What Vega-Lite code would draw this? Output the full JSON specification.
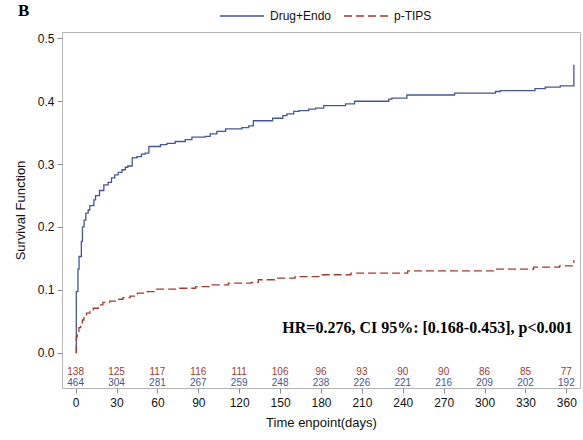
{
  "$schema": "https://vega.github.io/schema/vega-lite/v6.json",
  "autosize": "none",
  "width": 518,
  "height": 356,
  "padding": {"left": 62, "top": 32, "right": 3, "bottom": 52},
  "background": "white",
  "config": {
    "view": {"stroke": "#b4b4b4", "strokeWidth": 1},
    "font": "Liberation Sans"
  },
  "title": {
    "text": "B",
    "font": "Liberation Serif",
    "fontSize": 17,
    "fontWeight": "bold",
    "color": "#000000",
    "anchor": "start",
    "frame": "group",
    "dx": -44,
    "dy": 33,
    "offset": 6
  },
  "datasets": {
    "curves": [
      {"g": "Drug+Endo", "t": 0, "s": 0},
      {"g": "Drug+Endo", "t": 0.5, "s": 0.097},
      {"g": "Drug+Endo", "t": 1.7, "s": 0.133},
      {"g": "Drug+Endo", "t": 2.5, "s": 0.153},
      {"g": "Drug+Endo", "t": 4.2, "s": 0.177},
      {"g": "Drug+Endo", "t": 5, "s": 0.2},
      {"g": "Drug+Endo", "t": 6.2, "s": 0.211},
      {"g": "Drug+Endo", "t": 7.5, "s": 0.222},
      {"g": "Drug+Endo", "t": 9.2, "s": 0.227},
      {"g": "Drug+Endo", "t": 10.4, "s": 0.234},
      {"g": "Drug+Endo", "t": 13.4, "s": 0.243},
      {"g": "Drug+Endo", "t": 14.6, "s": 0.25},
      {"g": "Drug+Endo", "t": 17.5, "s": 0.258},
      {"g": "Drug+Endo", "t": 20.7, "s": 0.267},
      {"g": "Drug+Endo", "t": 23.9, "s": 0.271},
      {"g": "Drug+Endo", "t": 26.3, "s": 0.278},
      {"g": "Drug+Endo", "t": 28.7, "s": 0.283},
      {"g": "Drug+Endo", "t": 31.2, "s": 0.287},
      {"g": "Drug+Endo", "t": 34, "s": 0.291},
      {"g": "Drug+Endo", "t": 36.5, "s": 0.295},
      {"g": "Drug+Endo", "t": 38.3, "s": 0.297},
      {"g": "Drug+Endo", "t": 41.5, "s": 0.31},
      {"g": "Drug+Endo", "t": 45, "s": 0.312},
      {"g": "Drug+Endo", "t": 48.3, "s": 0.316},
      {"g": "Drug+Endo", "t": 51, "s": 0.3175},
      {"g": "Drug+Endo", "t": 53.7, "s": 0.328},
      {"g": "Drug+Endo", "t": 62.2, "s": 0.331},
      {"g": "Drug+Endo", "t": 67, "s": 0.333},
      {"g": "Drug+Endo", "t": 73, "s": 0.336},
      {"g": "Drug+Endo", "t": 80.4, "s": 0.339},
      {"g": "Drug+Endo", "t": 85.3, "s": 0.343},
      {"g": "Drug+Endo", "t": 95, "s": 0.344},
      {"g": "Drug+Endo", "t": 98.7, "s": 0.348},
      {"g": "Drug+Endo", "t": 103.6, "s": 0.352},
      {"g": "Drug+Endo", "t": 110, "s": 0.356},
      {"g": "Drug+Endo", "t": 122, "s": 0.358},
      {"g": "Drug+Endo", "t": 127, "s": 0.361},
      {"g": "Drug+Endo", "t": 130.4, "s": 0.369},
      {"g": "Drug+Endo", "t": 144.5, "s": 0.373},
      {"g": "Drug+Endo", "t": 152, "s": 0.377},
      {"g": "Drug+Endo", "t": 155, "s": 0.38},
      {"g": "Drug+Endo", "t": 160, "s": 0.384},
      {"g": "Drug+Endo", "t": 164, "s": 0.385},
      {"g": "Drug+Endo", "t": 171, "s": 0.3875},
      {"g": "Drug+Endo", "t": 176, "s": 0.389},
      {"g": "Drug+Endo", "t": 182, "s": 0.393},
      {"g": "Drug+Endo", "t": 198, "s": 0.396},
      {"g": "Drug+Endo", "t": 204.6, "s": 0.4},
      {"g": "Drug+Endo", "t": 229.7, "s": 0.4035},
      {"g": "Drug+Endo", "t": 232, "s": 0.405},
      {"g": "Drug+Endo", "t": 243, "s": 0.41},
      {"g": "Drug+Endo", "t": 278, "s": 0.413},
      {"g": "Drug+Endo", "t": 308, "s": 0.4155},
      {"g": "Drug+Endo", "t": 311.5, "s": 0.417},
      {"g": "Drug+Endo", "t": 337, "s": 0.42},
      {"g": "Drug+Endo", "t": 344.5, "s": 0.4225},
      {"g": "Drug+Endo", "t": 355.5, "s": 0.4245},
      {"g": "Drug+Endo", "t": 365.5, "s": 0.458},
      {"g": "p-TIPS", "t": 0, "s": 0},
      {"g": "p-TIPS", "t": 0.5, "s": 0.025},
      {"g": "p-TIPS", "t": 1.2, "s": 0.028},
      {"g": "p-TIPS", "t": 2.4, "s": 0.04},
      {"g": "p-TIPS", "t": 3.7, "s": 0.047},
      {"g": "p-TIPS", "t": 4.9, "s": 0.052},
      {"g": "p-TIPS", "t": 6.1, "s": 0.057},
      {"g": "p-TIPS", "t": 8, "s": 0.063},
      {"g": "p-TIPS", "t": 10.5, "s": 0.068},
      {"g": "p-TIPS", "t": 12.9, "s": 0.0707},
      {"g": "p-TIPS", "t": 16.6, "s": 0.076},
      {"g": "p-TIPS", "t": 20, "s": 0.08},
      {"g": "p-TIPS", "t": 25, "s": 0.082},
      {"g": "p-TIPS", "t": 30, "s": 0.085},
      {"g": "p-TIPS", "t": 34.7, "s": 0.0876},
      {"g": "p-TIPS", "t": 40, "s": 0.09},
      {"g": "p-TIPS", "t": 45.3, "s": 0.0946},
      {"g": "p-TIPS", "t": 52.6, "s": 0.097},
      {"g": "p-TIPS", "t": 57.6, "s": 0.101},
      {"g": "p-TIPS", "t": 75.8, "s": 0.1025},
      {"g": "p-TIPS", "t": 88, "s": 0.105},
      {"g": "p-TIPS", "t": 100, "s": 0.108},
      {"g": "p-TIPS", "t": 112, "s": 0.1105},
      {"g": "p-TIPS", "t": 129, "s": 0.112},
      {"g": "p-TIPS", "t": 134, "s": 0.116},
      {"g": "p-TIPS", "t": 146, "s": 0.1185},
      {"g": "p-TIPS", "t": 161, "s": 0.121},
      {"g": "p-TIPS", "t": 180, "s": 0.124},
      {"g": "p-TIPS", "t": 202, "s": 0.1265},
      {"g": "p-TIPS", "t": 243.6, "s": 0.13},
      {"g": "p-TIPS", "t": 307, "s": 0.133},
      {"g": "p-TIPS", "t": 336, "s": 0.136},
      {"g": "p-TIPS", "t": 355, "s": 0.138},
      {"g": "p-TIPS", "t": 365.5, "s": 0.1476}
    ],
    "risk": [
      {"t": 0, "tips": 138, "drug": 464},
      {"t": 30, "tips": 125, "drug": 304},
      {"t": 60, "tips": 117, "drug": 281},
      {"t": 90, "tips": 116, "drug": 267},
      {"t": 120, "tips": 111, "drug": 259},
      {"t": 150, "tips": 106, "drug": 248},
      {"t": 180, "tips": 96, "drug": 238},
      {"t": 210, "tips": 93, "drug": 226},
      {"t": 240, "tips": 90, "drug": 221},
      {"t": 270, "tips": 90, "drug": 216},
      {"t": 300, "tips": 86, "drug": 209},
      {"t": 330, "tips": 85, "drug": 202},
      {"t": 360, "tips": 77, "drug": 192}
    ]
  },
  "layer": [
    {
      "data": {"name": "curves"},
      "mark": {"type": "line", "interpolate": "step-after", "strokeWidth": 1.3},
      "encoding": {
        "x": {
          "field": "t",
          "type": "quantitative",
          "scale": {"domain": [-10, 370], "nice": false, "zero": false},
          "axis": {
            "values": [0, 30, 60, 90, 120, 150, 180, 210, 240, 270, 300, 330, 360],
            "title": "Time enpoint(days)",
            "titleFont": "Liberation Sans",
            "titleFontSize": 13,
            "titleFontWeight": "normal",
            "titleColor": "#111111",
            "titlePadding": 8,
            "labelFontSize": 12,
            "labelColor": "#111111",
            "labelPadding": 4,
            "tickColor": "#8c8c8c",
            "tickSize": 5,
            "domain": false,
            "grid": false
          }
        },
        "y": {
          "field": "s",
          "type": "quantitative",
          "scale": {"domain": [-0.0562, 0.5102], "nice": false, "zero": false},
          "axis": {
            "values": [0, 0.1, 0.2, 0.3, 0.4, 0.5],
            "format": ".1f",
            "title": "Survival Function",
            "titleFont": "Liberation Sans",
            "titleFontSize": 13,
            "titleFontWeight": "normal",
            "titleColor": "#111111",
            "titlePadding": 10,
            "labelFontSize": 12,
            "labelColor": "#111111",
            "labelPadding": 3,
            "tickColor": "#8c8c8c",
            "tickSize": 5,
            "domain": false,
            "grid": false
          }
        },
        "color": {
          "field": "g",
          "type": "nominal",
          "scale": {"domain": ["Drug+Endo", "p-TIPS"], "range": ["#445694", "#A23A2E"]},
          "legend": {
            "title": null,
            "orient": "none",
            "direction": "horizontal",
            "legendX": 157,
            "legendY": -39,
            "symbolType": "stroke",
            "symbolSize": 1936,
            "symbolStrokeWidth": 1.3,
            "labelFontSize": 12,
            "labelColor": "#111111",
            "labelOffset": 5,
            "columnPadding": 9
          }
        },
        "strokeDash": {
          "field": "g",
          "type": "nominal",
          "scale": {"domain": ["Drug+Endo", "p-TIPS"], "range": [[1, 0], [8, 4]]},
          "legend": {
            "title": null,
            "orient": "none",
            "direction": "horizontal",
            "legendX": 157,
            "legendY": -39,
            "symbolType": "stroke",
            "symbolSize": 1936,
            "symbolStrokeWidth": 1.3,
            "labelFontSize": 12,
            "labelColor": "#111111",
            "labelOffset": 5,
            "columnPadding": 9
          }
        }
      }
    },
    {
      "data": {"name": "risk"},
      "mark": {"type": "text", "fontSize": 10, "color": "#A23A2E", "baseline": "middle"},
      "encoding": {
        "x": {"field": "t", "type": "quantitative"},
        "y": {"datum": -0.0302},
        "text": {"field": "tips", "type": "nominal"}
      }
    },
    {
      "data": {"name": "risk"},
      "mark": {"type": "text", "fontSize": 10, "color": "#445694", "baseline": "middle"},
      "encoding": {
        "x": {"field": "t", "type": "quantitative"},
        "y": {"datum": -0.0478},
        "text": {"field": "drug", "type": "nominal"}
      }
    },
    {
      "data": {"values": [{"label": "HR=0.276, CI 95%: [0.168-0.453], p<0.001"}]},
      "mark": {"type": "text", "font": "Liberation Serif", "fontWeight": "bold", "fontSize": 16, "align": "right", "baseline": "middle", "color": "#000000"},
      "encoding": {
        "x": {"datum": 364.5},
        "y": {"datum": 0.039},
        "text": {"field": "label", "type": "nominal"}
      }
    }
  ]
}
